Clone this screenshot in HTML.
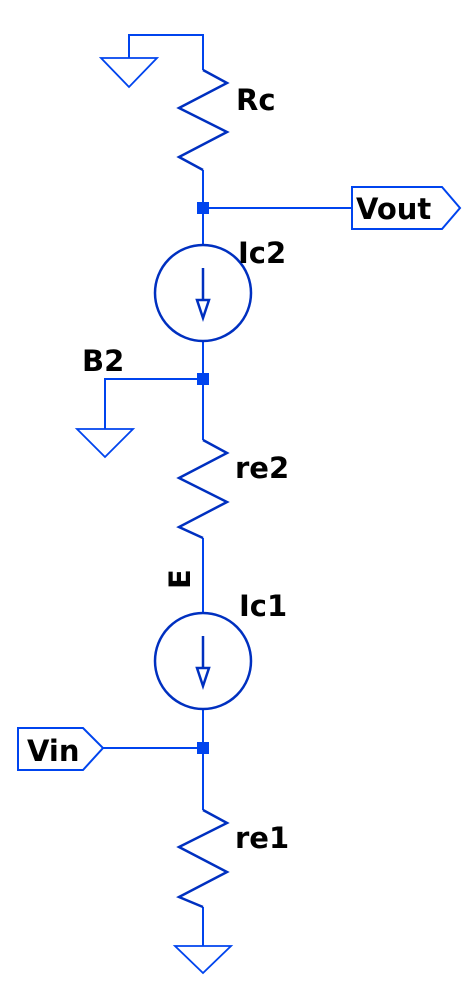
<!DOCTYPE html>
<html><head><meta charset="utf-8"><style>
html,body{margin:0;padding:0;background:#fff;}
svg{display:block;}
text{font-family:"DejaVu Sans","Liberation Sans",sans-serif;font-weight:bold;fill:#000;font-size:29px;}
</style></head><body>
<svg width="474" height="990" viewBox="0 0 474 990">
<g stroke="#0044ee" stroke-width="2" fill="none">
<polyline points="129,58 129,35 203,35 203,70"/>
<line x1="203" y1="170" x2="203" y2="245"/>
<line x1="203" y1="208" x2="352" y2="208"/>
<line x1="203" y1="341" x2="203" y2="440"/>
<polyline points="203,379 105,379 105,429"/>
<line x1="203" y1="538" x2="203" y2="613"/>
<line x1="203" y1="709" x2="203" y2="810"/>
<line x1="103" y1="748" x2="203" y2="748"/>
<line x1="203" y1="907" x2="203" y2="946"/>
</g>
<g stroke="#0044ee" stroke-width="1.8" fill="none">
<polygon points="101,58 157,58 129,87"/>
<polygon points="77,429 133,429 105,457"/>
<polygon points="175,946 231,946 203,973"/>
</g>
<g stroke="#0030c0" stroke-width="2.5" fill="none">
<polyline points="203,70 227,83 179,108 227,132 179,157 203,170"/>
<polyline points="203,440 227,453 179,478 227,502 179,527 203,538"/>
<polyline points="203,810 227,823 179,847 227,872 179,897 203,907"/>
</g>
<g stroke="#0030c0" stroke-width="2.5" fill="none">
<g>
<circle cx="203" cy="293" r="48"/>
<line x1="203" y1="268" x2="203" y2="300"/>
<polygon points="197,300 209,300 203,318"/>
</g>
<g>
<circle cx="203" cy="661" r="48"/>
<line x1="203" y1="636" x2="203" y2="668"/>
<polygon points="197,668 209,668 203,686"/>
</g>
</g>
<g fill="#0044ee">
<rect x="197" y="202" width="12" height="12"/>
<rect x="197" y="373" width="12" height="12"/>
<rect x="197" y="742" width="12" height="12"/>
</g>
<g stroke="#0044ee" stroke-width="2" fill="none">
<polygon points="352,187 442,187 460,208 442,229 352,229"/>
<polygon points="18,728 83,728 103,748 83,770 18,770"/>
</g>
<text x="236" y="110">Rc</text>
<text x="356" y="219">Vout</text>
<text x="238" y="263">Ic2</text>
<text x="82" y="371">B2</text>
<text x="235" y="478">re2</text>
<text x="0" y="0" transform="translate(190,589) rotate(-90)">E</text>
<text x="239" y="616">Ic1</text>
<text x="27" y="761">Vin</text>
<text x="235" y="848">re1</text>
</svg>
</body></html>
